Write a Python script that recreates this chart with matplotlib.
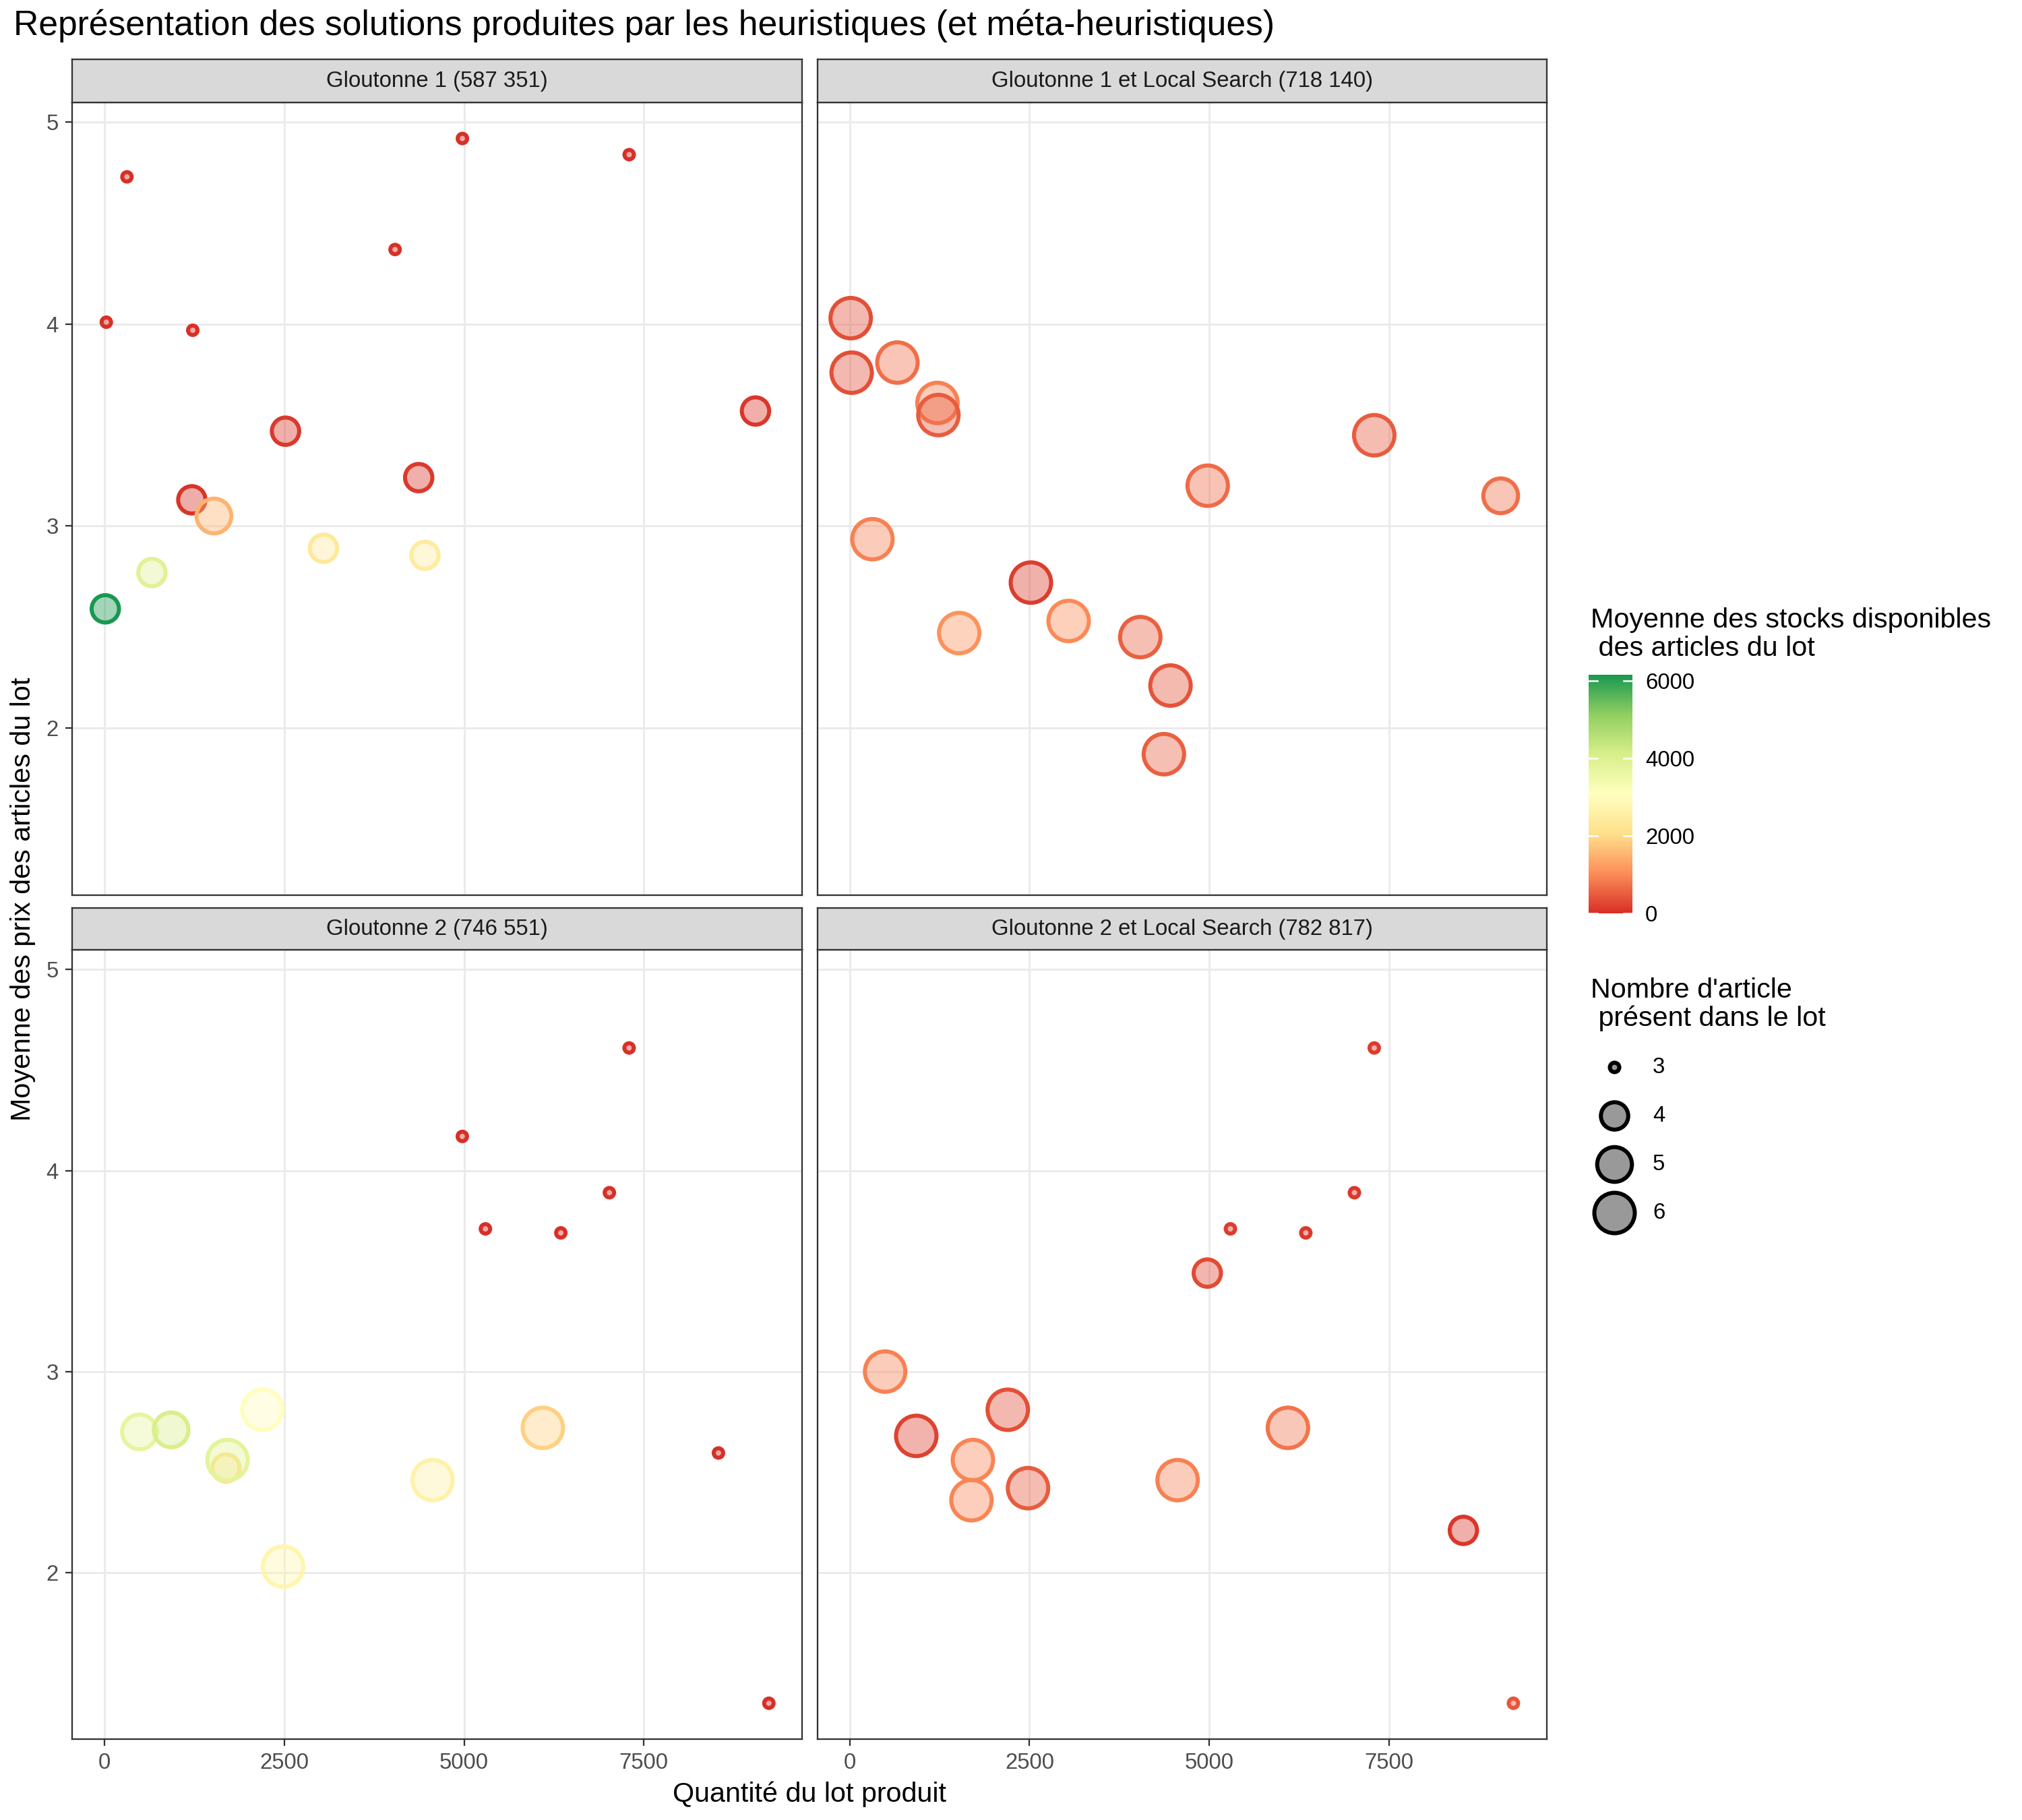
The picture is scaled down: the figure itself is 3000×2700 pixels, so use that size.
import numpy as np
import matplotlib
matplotlib.use("Agg")
import matplotlib.pyplot as plt
from matplotlib.colors import LinearSegmentedColormap, Normalize
import matplotlib.transforms as mtransforms
from matplotlib.cm import ScalarMappable

plt.rcParams['font.family'] = ['Liberation Sans', 'DejaVu Sans']

# ---------------- data ----------------
facet_titles = ["Gloutonne 1 (587 351)", "Gloutonne 1 et Local Search (718 140)",
                "Gloutonne 2 (746 551)", "Gloutonne 2 et Local Search (782 817)"]

g1_qty = [314, 4977, 7295, 4041, 27, 1229, 2518, 9051, 4369, 1216, 1523, 3046, 4456, 661, 13]
g1_price = [4.73, 4.92, 4.84, 4.37, 4.01, 3.97, 3.47, 3.57, 3.24, 3.13, 3.05, 2.89, 2.855, 2.77, 2.59]
g1_nart = [3, 3, 3, 3, 3, 3, 4, 4, 4, 4, 5, 4, 4, 4, 4]
g1_stock = [0, 0, 0, 0, 0, 0, 100, 80, 120, 60, 1500, 2350, 2450, 3900, 6150]

g1ls_qty = [13, 26, 663, 1220, 1233, 7297, 4980, 9056, 315, 2520, 3045, 1522, 4042, 4462, 4370]
g1ls_price = [4.03, 3.76, 3.81, 3.61, 3.55, 3.45, 3.20, 3.15, 2.935, 2.72, 2.53, 2.47, 2.45, 2.21, 1.87]
g1ls_nart = [6, 6, 6, 6, 6, 6, 6, 5, 6, 6, 6, 6, 6, 6, 6]
g1ls_stock = [350, 350, 700, 900, 500, 500, 650, 700, 900, 150, 1000, 1100, 550, 400, 550]

g2_qty = [7294, 4976, 7020, 5297, 6345, 8536, 9237, 488, 928, 2197, 1691, 1711, 2484, 4562, 6095]
g2_price = [4.61, 4.17, 3.89, 3.71, 3.69, 2.595, 1.35, 2.70, 2.71, 2.81, 2.52, 2.56, 2.03, 2.46, 2.72]
g2_nart = [3, 3, 3, 3, 3, 3, 3, 5, 5, 6, 4, 6, 6, 6, 6]
g2_stock = [0, 0, 0, 0, 0, 0, 0, 3700, 4100, 3050, 2150, 3800, 2750, 2600, 1850]

g2ls_qty = [7297, 7021, 5296, 6345, 9233, 4974, 492, 925, 2198, 1713, 1693, 2480, 4561, 6096, 8537]
g2ls_price = [4.61, 3.89, 3.71, 3.69, 1.35, 3.49, 3.00, 2.68, 2.81, 2.56, 2.36, 2.42, 2.46, 2.72, 2.21]
g2ls_nart = [3, 3, 3, 3, 3, 4, 6, 6, 6, 6, 6, 6, 6, 6, 4]
g2ls_stock = [150, 100, 150, 100, 450, 300, 900, 200, 350, 950, 950, 500, 900, 750, 80]

x_ticks = [0, 2500, 5000, 7500]
y_ticks = [2, 3, 4, 5]
stock_ticks = [0, 2000, 4000, 6000]
size_levels = [3, 4, 5, 6]

title = "Représentation des solutions produites par les heuristiques (et méta-heuristiques)"
xlabel = "Quantité du lot produit"
ylabel = "Moyenne des prix des articles du lot"
color_title = "Moyenne des stocks disponibles\n des articles du lot"
size_title = "Nombre d'article\n présent dans le lot"

panels = [
    (g1_qty, g1_price, g1_nart, g1_stock),
    (g1ls_qty, g1ls_price, g1ls_nart, g1ls_stock),
    (g2_qty, g2_price, g2_nart, g2_stock),
    (g2ls_qty, g2ls_price, g2ls_nart, g2ls_stock),
]

# ---------------- scales ----------------
W, H = 3000, 2700
DPI = 300
PX2PT = 72.0 / DPI

all_x = np.concatenate([np.asarray(p[0], float) for p in panels])
all_y = np.concatenate([np.asarray(p[1], float) for p in panels])
all_n = np.concatenate([np.asarray(p[2], float) for p in panels])
all_s = np.concatenate([np.asarray(p[3], float) for p in panels])

def expand(lo, hi, f=0.05):
    r = hi - lo
    return lo - f * r, hi + f * r

xlim = expand(all_x.min(), all_x.max())
ylim = expand(all_y.min(), all_y.max())

cmap = LinearSegmentedColormap.from_list(
    "rdylgn7", ['#d73027', '#fc8d59', '#fee08b', '#ffffbf', '#d9ef8b', '#91cf60', '#1a9850'])
norm = Normalize(vmin=all_s.min(), vmax=all_s.max())

EDGE_PX = 6.0
nmin, nmax = all_n.min(), all_n.max()

def marker_area(n):
    n = np.asarray(n, float)
    gg = 1 + 5 * np.sqrt((n - nmin) / (nmax - nmin))
    outer_px = 10.8 + 9.2 * gg
    ms_pt = (outer_px - EDGE_PX) * PX2PT
    return ms_pt ** 2

EDGE_PT = EDGE_PX * PX2PT

# ---------------- figure ----------------
fig = plt.figure(figsize=(W / DPI, H / DPI), dpi=DPI)
fig.patch.set_facecolor('white')

def fx(px):
    return px / W

def fy(py):
    return 1 - py / H

col_lr = [(107, 1190), (1213, 2295)]
row_tb = [((88, 152), (152, 1328)), ((1347, 1409), (1409, 2580))]

grid_col = '#EBEBEB'
border_col = '#333333'

for i, (qty, price, nart, stock) in enumerate(panels):
    r, c = divmod(i, 2)
    (l, rr) = col_lr[c]
    (st, sb), (at, ab) = row_tb[r]
    ax = fig.add_axes([fx(l), fy(ab), fx(rr) - fx(l), fy(at) - fy(ab)])
    ax.set_xlim(*xlim)
    ax.set_ylim(*ylim)
    ax.set_xticks(x_ticks)
    ax.set_yticks(y_ticks)
    ax.grid(True, color=grid_col, linewidth=0.7)
    ax.set_axisbelow(True)
    for sp in ax.spines.values():
        sp.set_color(border_col)
        sp.set_linewidth(0.55)
    ax.tick_params(direction='out', length=2.4, width=0.55, color=border_col,
                   labelsize=7.9, labelcolor='#4D4D4D', pad=2.4)
    if r == 0:
        ax.tick_params(axis='x', bottom=False, labelbottom=False)
    if c == 1:
        ax.tick_params(axis='y', left=False, labelleft=False)

    cols = cmap(norm(np.asarray(stock, float)))
    face = cols.copy()
    face[:, 3] = 0.4
    ax.scatter(qty, price, s=marker_area(nart), facecolors=face, edgecolors=cols,
               linewidths=EDGE_PT, zorder=3)

    # strip
    sax = fig.add_axes([fx(l), fy(sb), fx(rr) - fx(l), fy(st) - fy(sb)])
    sax.set_facecolor('#D9D9D9')
    sax.set_xticks([])
    sax.set_yticks([])
    for sp in sax.spines.values():
        sp.set_color(border_col)
        sp.set_linewidth(0.55)
    sax.text(0.5, 0.5, facet_titles[i], ha='center', va='center', fontsize=7.9,
             color='#1A1A1A', transform=sax.transAxes)

# titles
fig.text(fx(20), fy(38), title, ha='left', va='center', fontsize=12.4, color='black')
fig.text(fx(1201), fy(2662), xlabel, ha='center', va='center', fontsize=9.9, color='black')
fig.text(fx(34), fy(1334), ylabel, ha='center', va='center', rotation=90, fontsize=9.9, color='black')

# ---------------- colour legend ----------------
fig.text(fx(2360), fy(941), color_title, ha='left', va='center', fontsize=9.9,
         linespacing=1.12, color='black')
cax = fig.add_axes([fx(2357), fy(1355), fx(2422) - fx(2357), fy(1001) - fy(1355)])
sm = ScalarMappable(norm=norm, cmap=cmap)
cb = fig.colorbar(sm, cax=cax, ticks=stock_ticks)
cb.outline.set_visible(False)
cax.tick_params(length=0, labelsize=7.9, pad=4.6, labelcolor='black')
blend = mtransforms.blended_transform_factory(cax.transAxes, cax.transData)
for t in stock_ticks:
    cax.plot([0, 0.2], [t, t], color='white', lw=0.6, transform=blend, clip_on=False)
    cax.plot([0.8, 1.0], [t, t], color='white', lw=0.6, transform=blend, clip_on=False)

# ---------------- size legend ----------------
fig.text(fx(2360), fy(1490), size_title, ha='left', va='center', fontsize=9.9,
         linespacing=1.12, color='black')
pitch = 72
top = 1583 - pitch / 2
lax = fig.add_axes([fx(2345), fy(top + pitch * len(size_levels)), fx(2445) - fx(2345),
                    fy(top) - fy(top + pitch * len(size_levels))])
lax.set_xlim(0, 1)
lax.set_ylim(len(size_levels) - 0.5, -0.5)
lax.axis('off')
lblend = mtransforms.blended_transform_factory(lax.transAxes, lax.transData)
for k, lev in enumerate(size_levels):
    lax.scatter([0.5], [k], s=marker_area([lev]), facecolors=[(0, 0, 0, 0.4)],
                edgecolors='black', linewidths=EDGE_PT, clip_on=False)
    lax.text(1.07, k, str(lev), ha='left', va='center', fontsize=7.9, color='black',
             transform=lblend)

fig.savefig("out.png", dpi=DPI, facecolor='white')
